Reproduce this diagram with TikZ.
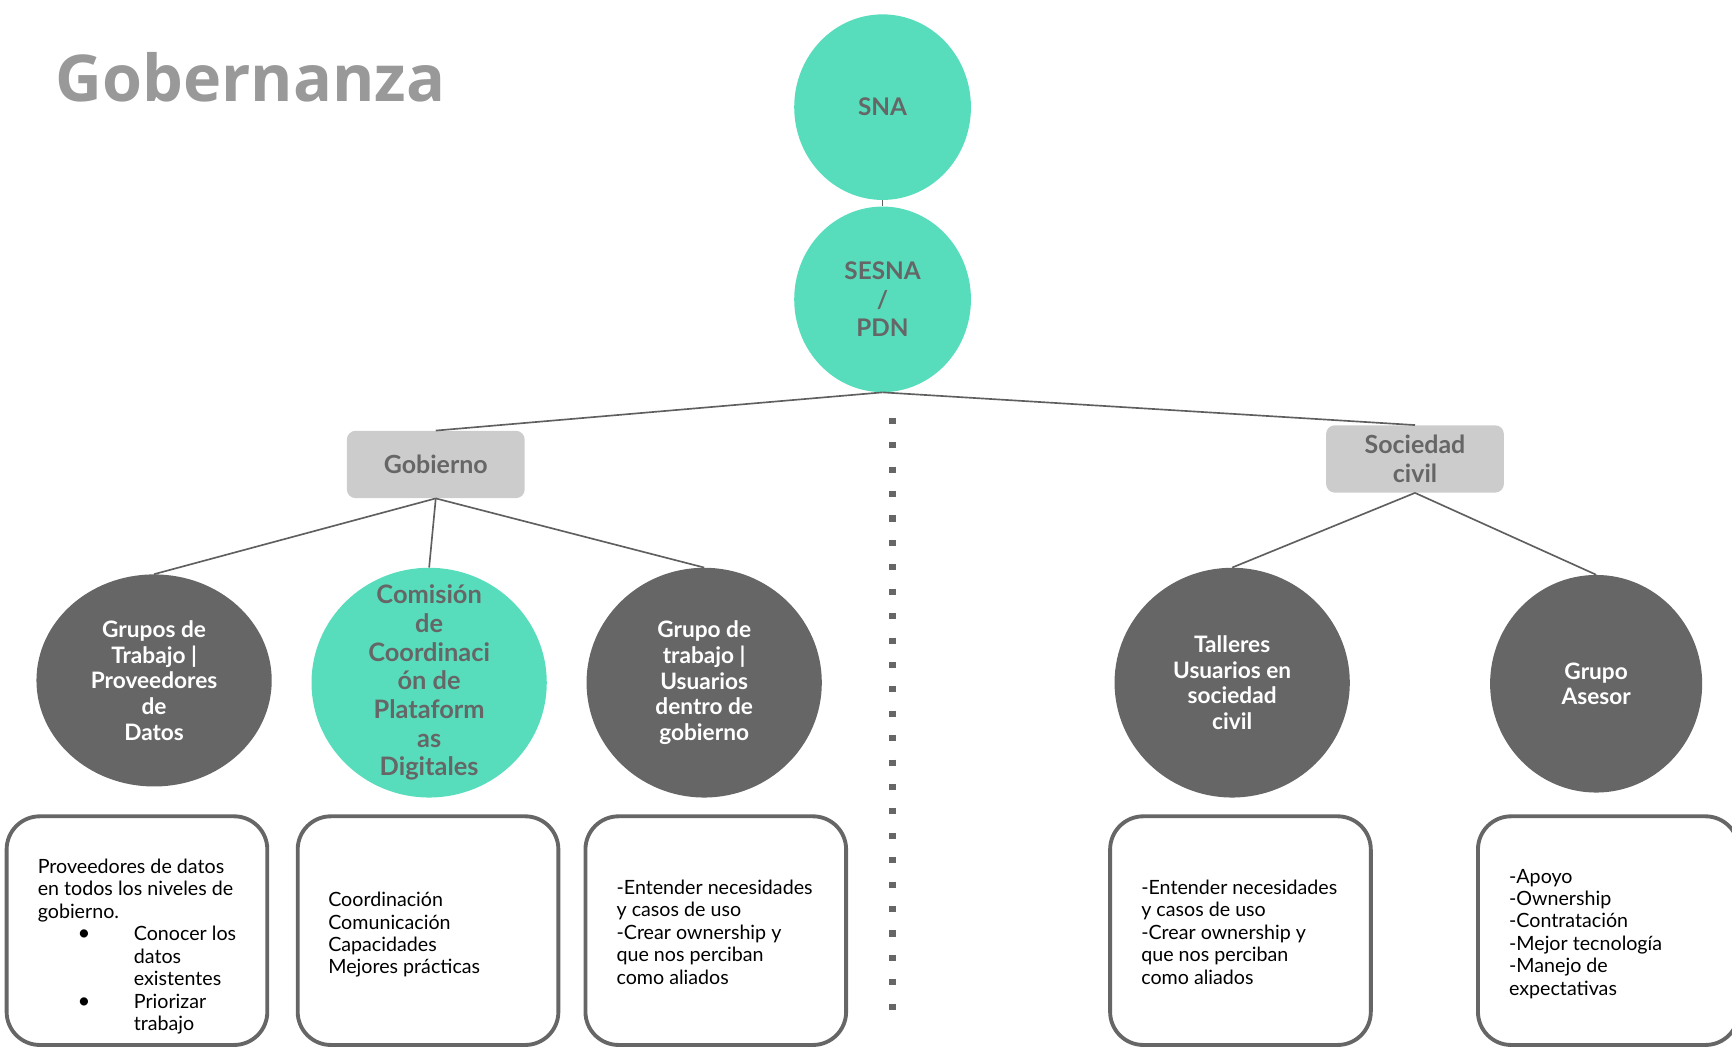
\documentclass[tikz,border=0pt]{standalone}
\usepackage{fontspec}
\setmainfont{Lato}
\newfontfamily\titlefont{Open Sans}
\usetikzlibrary{shapes.geometric}
\definecolor{teal1}{HTML}{57DDBC}
\definecolor{dgray}{HTML}{666666}
\definecolor{lgray}{HTML}{CCCCCC}
\definecolor{tgray}{HTML}{999999}
\definecolor{lcol}{HTML}{5F5F5F}
\begin{document}
\begin{tikzpicture}[x=1pt,y=-1pt,
  blob/.style={ellipse, inner sep=0pt, draw=none},
  tealblob/.style={blob, fill=teal1},
  darkblob/.style={blob, fill=dgray},
  lbl/.style={align=center, font=\bfseries\fontsize{22}{26}\selectfont, text=dgray, inner sep=0pt},
  wlbl/.style={align=center, font=\bfseries\fontsize{20.5}{23.3}\selectfont, text=white, inner sep=0pt},
  catbox/.style={rectangle, rounded corners=8pt, fill=lgray, minimum width=161pt, minimum height=61pt, inner sep=0pt, align=center, font=\bfseries\fontsize{22.6}{26}\selectfont, text=dgray},
  infobox/.style={rectangle, rounded corners=30pt, draw=dgray, line width=3.5pt, fill=white, minimum width=236pt, minimum height=207pt, inner sep=0pt},
  body/.style={align=left, font=\fontsize{17.8}{20.3}\selectfont, anchor=north west, inner sep=0pt, text=black},
  conn/.style={draw=lcol, line width=1.5pt}
]
\useasboundingbox (0,0) rectangle (1568,948.8);

% title
\node[anchor=base west, inner sep=0pt, text=tgray, font=\titlefont\bfseries\fontsize{58.5}{64}\selectfont] (title) at (50,92) {Gobernanza};

% top circles
\node[tealblob, minimum width=160pt, minimum height=168pt] (sna) at (799,97) {};
\node[lbl] (snat) at (sna) {SNA};
\node[tealblob, minimum width=160pt, minimum height=168pt] (sesna) at (799,271) {};
\node[lbl] (sesnat) at (sesna) {SESNA\\/\\PDN};

% category boxes
\node[catbox] (gob) at (394.5,420.5) {Gobierno};
\node[catbox] (soc) at (1281,415.5) {Sociedad\\civil};

% lower circles
\node[darkblob, minimum width=213pt, minimum height=192pt] (c1) at (139.5,616) {};
\node[wlbl] (c1t) at (c1) {Grupos de\\Trabajo |\\Proveedores\\de\\Datos};
\node[tealblob, minimum width=213pt, minimum height=208pt] (c2) at (388.5,618) {};
\node[lbl, font=\bfseries\fontsize{23}{26}\selectfont] (c2t) at (c2) {Comisión\\de\\Coordinaci\\ón de\\Plataform\\as\\Digitales};
\node[darkblob, minimum width=213pt, minimum height=208pt] (c3) at (637.5,618) {};
\node[wlbl] (c3t) at (c3) {Grupo de\\trabajo |\\Usuarios\\dentro de\\gobierno};
\node[darkblob, minimum width=213pt, minimum height=208pt] (c4) at (1115.5,618) {};
\node[wlbl] (c4t) at (c4) {Talleres\\Usuarios en\\sociedad\\civil};
\node[darkblob, minimum width=192pt, minimum height=197pt] (c5) at (1445,619) {};
\node[wlbl] (c5t) at (c5) {Grupo\\Asesor};

% connectors
\draw[conn] (sna.south) -- (sesna.north);
\draw[conn] (sesna.south) -- (gob.north);
\draw[conn] (sesna.south) -- (soc.north);
\draw[conn] (gob.south) -- (c1.north);
\draw[conn] (gob.south) -- (c2.north);
\draw[conn] (gob.south) -- (c3.north);
\draw[conn] (soc.south) -- (c4.north);
\draw[conn] (soc.south) -- (c5.north);

% divider
\draw[dgray, line width=5.5pt, dash pattern=on 5.5pt off 16.6pt] (808,378.25) -- (808,914.2);

% info boxes
\node[infobox] (b1) at (124,842.5) {};
\node[infobox] (b2) at (387.5,842.5) {};
\node[infobox] (b3) at (648,842.5) {};
\node[infobox] (b4) at (1123,842.5) {};
\node[infobox] (b5) at (1456,842.5) {};

\node[body] (b1t) at (34,777.5) {Proveedores de datos\\en todos los niveles de\\gobierno.\\
\hspace*{36pt}\makebox[51pt][l]{\fontsize{20}{20}\selectfont •}Conocer los\\
\hspace*{87pt}datos\\
\hspace*{87pt}existentes\\
\hspace*{36pt}\makebox[51pt][l]{\fontsize{20}{20}\selectfont •}Priorizar\\
\hspace*{87pt}trabajo};
\node[body] (b2t) at (297,807.5) {Coordinación\\Comunicación\\Capacidades\\Mejores prácticas};
\node[body] (b3t) at (558,796.5) {-Entender necesidades\\y casos de uso\\-Crear ownership y\\que nos perciban\\como aliados};
\node[body] (b4t) at (1033,796.5) {-Entender necesidades\\y casos de uso\\-Crear ownership y\\que nos perciban\\como aliados};
\node[body] (b5t) at (1366,786.5) {-Apoyo\\-Ownership\\-Contratación\\-Mejor tecnología\\-Manejo de\\expectativas};
\end{tikzpicture}
\end{document}
